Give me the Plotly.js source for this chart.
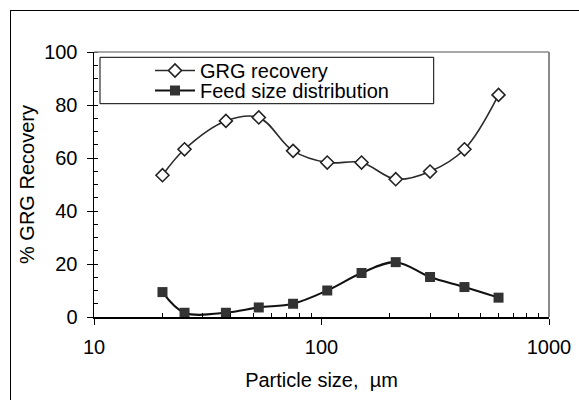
<!DOCTYPE html>
<html>
<head>
<meta charset="utf-8">
<script src="https://cdn.plot.ly/plotly-3.0.1.min.js"></script>
<style>
  * { scrollbar-width: none; }
  ::-webkit-scrollbar { display: none; width: 0; height: 0; }
  html, body { margin: 0; padding: 0; background: #ffffff; overflow: hidden; width: 579px; height: 400px; }
  #wrap { position: relative; width: 579px; height: 400px; overflow: hidden; }
  #chart { position: absolute; left: 0; top: 0; width: 579px; height: 400px; }
  /* outer chart frame: left and top edges */
  #frame { position: absolute; left: 10px; top: 10px; width: 620px; height: 440px;
           border-left: 1.5px solid #000000; border-top: 1.5px solid #000000;
           pointer-events: none; z-index: 5; }
</style>
</head>
<body>
<div id="wrap">
  <div id="chart"></div>
  <div id="frame"></div>
</div>
<script>
// Sieve sizes (µm)
const particleSize = [20, 25, 38, 53, 75, 106, 150, 212, 300, 425, 600];
// GRG recovery per size class (%)
const grgRecovery = [53.5, 63.3, 74.0, 75.3, 62.7, 58.3, 58.3, 52.0, 54.9, 63.3, 83.8];
// Feed size distribution per size class (%)
const feedDistribution = [9.4, 1.6, 1.6, 3.6, 5.0, 10.0, 16.6, 20.7, 15.1, 11.3, 7.3];

const seriesNames = ['GRG recovery', 'Feed size distribution'];
const xTickLabels = ['10', '100', '1000'];
const xTickValues = [10, 100, 1000];
const xMinorValues = [20, 30, 40, 50, 60, 70, 80, 90, 200, 300, 400, 500, 600, 700, 800, 900];

const W = 579, H = 400;
const M = { l: 94, r: 30, t: 52, b: 83 };
const PW = W - M.l - M.r, PH = H - M.t - M.b;
// pixel -> paper helpers for layout placement
const px = v => (v - M.l) / PW;
const py = v => (H - M.b - v) / PH;

const FONT = { family: 'Liberation Sans, Arial, Helvetica, sans-serif', size: 20, color: '#000000' };

const traces = [
  {
    x: particleSize, y: grgRecovery, name: seriesNames[0], legend: 'legend',
    type: 'scatter', mode: 'lines+markers',
    line: { shape: 'spline', smoothing: 1, color: '#2b2b2b', width: 1.6 },
    marker: { symbol: 'diamond', size: 10, color: '#ffffff', line: { color: '#222222', width: 1.6 } }
  },
  {
    x: particleSize, y: feedDistribution, name: seriesNames[1], legend: 'legend2',
    type: 'scatter', mode: 'lines+markers',
    line: { shape: 'spline', smoothing: 1, color: '#111111', width: 2 },
    marker: { symbol: 'square', size: 10, color: '#333333', line: { color: '#333333', width: 0 } }
  }
];

const legendBase = {
  xanchor: 'left', yanchor: 'middle', bgcolor: 'rgba(0,0,0,0)', borderwidth: 0,
  font: FONT, itemwidth: 40
};

const layout = {
  width: W, height: H,
  margin: M,
  paper_bgcolor: '#ffffff', plot_bgcolor: '#ffffff',
  font: FONT,
  showlegend: true,
  legend: Object.assign({}, legendBase, { x: px(150), y: py(70.5) }),
  legend2: Object.assign({}, legendBase, { x: px(150), y: py(90.5) }),
  xaxis: {
    type: 'log', range: [1, 3],
    tickmode: 'array', tickvals: xTickValues, ticktext: xTickLabels,
    ticks: 'outside', ticklen: 6, tickwidth: 1, tickcolor: '#000000',
    ticklabelstandoff: 5,
    minor: { tickmode: 'array', tickvals: xMinorValues, ticks: 'inside', ticklen: 4, tickwidth: 1, tickcolor: '#000000', showgrid: false },
    showline: true, linecolor: '#000000', linewidth: 1.5,
    showgrid: false, zeroline: false,
    tickfont: FONT,
    title: { text: 'Particle size,  µm', font: FONT, standoff: 16 }
  },
  yaxis: {
    range: [0, 100], dtick: 20, tick0: 0,
    ticks: 'outside', ticklen: 6, tickwidth: 1, tickcolor: '#000000',
    ticklabelstandoff: 5,
    minor: { dtick: 5, ticks: 'inside', ticklen: 4, tickwidth: 1, tickcolor: '#000000', showgrid: false },
    showline: true, linecolor: '#000000', linewidth: 1.5,
    showgrid: false, zeroline: false,
    tickfont: FONT,
    title: { text: '% GRG Recovery', font: FONT, standoff: 4 }
  },
  shapes: [
    // grey plot-area frame (top and right)
    { type: 'line', xref: 'paper', yref: 'paper', x0: 0, y0: 1, x1: 1, y1: 1,
      line: { color: '#8a8a8a', width: 1.5 } },
    { type: 'line', xref: 'paper', yref: 'paper', x0: 1, y0: 0, x1: 1, y1: 1,
      line: { color: '#8a8a8a', width: 2 } },
    // legend box
    { type: 'rect', xref: 'paper', yref: 'paper', x0: px(100), y0: py(103.7), x1: px(433.7), y1: py(57.3),
      line: { color: '#000000', width: 1 }, fillcolor: '#ffffff', layer: 'below' }
  ]
};

Plotly.newPlot('chart', traces, layout, { displayModeBar: false, staticPlot: true });
</script>
</body>
</html>
